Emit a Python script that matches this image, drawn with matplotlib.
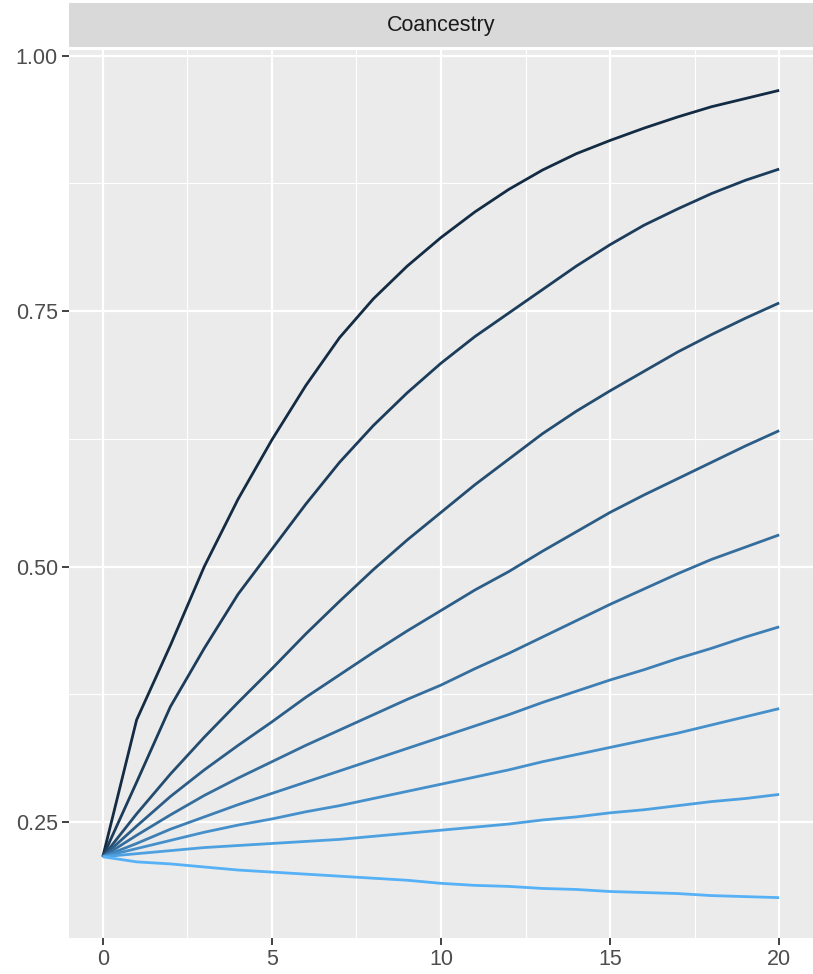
import numpy as np
import matplotlib
matplotlib.use("Agg")
import matplotlib.pyplot as plt
from matplotlib.colors import LinearSegmentedColormap

generation = list(range(21))

# one series per line, top (darkest) to bottom (lightest)
line1 = [.216, .350, .423, .500, .566, .624, .677, .724, .762, .794, .822,
         .847, .869, .888, .904, .917, .929, .940, .950, .958, .966]
line2 = [.216, .289, .363, .420, .473, .517, .561, .602, .638, .670, .699,
         .725, .748, .771, .794, .815, .834, .850, .865, .878, .889]
line3 = [.216, .258, .297, .333, .367, .400, .434, .466, .497, .526, .553,
         .580, .605, .630, .652, .672, .691, .710, .727, .743, .758]
line4 = [.216, .246, .275, .301, .325, .348, .372, .394, .416, .437, .457,
         .477, .495, .515, .534, .553, .570, .586, .602, .618, .633]
line5 = [.216, .237, .257, .276, .293, .309, .325, .340, .355, .370, .384,
         .400, .415, .431, .447, .463, .478, .493, .507, .519, .531]
line6 = [.216, .229, .243, .255, .267, .278, .289, .300, .311, .322, .333,
         .344, .355, .367, .378, .389, .399, .410, .420, .431, .441]
line7 = [.216, .224, .232, .240, .247, .253, .260, .266, .273, .280, .287,
         .294, .301, .309, .316, .323, .330, .337, .345, .353, .361]
line8 = [.216, .219, .222, .225, .227, .229, .231, .233, .236, .239, .242,
         .245, .248, .252, .255, .259, .262, .266, .270, .273, .277]
line9 = [.216, .211, .209, .206, .203, .201, .199, .197, .195, .193, .190,
         .188, .187, .185, .184, .182, .181, .180, .178, .177, .176]

series = [line1, line2, line3, line4, line5, line6, line7, line8, line9]

plt.rcParams['font.family'] = ['Liberation Sans', 'DejaVu Sans']

cmap = LinearSegmentedColormap.from_list("gg", ["#132B43", "#56B1F7"])

fig = plt.figure(figsize=(8.13, 9.74), dpi=100)
ax = fig.add_axes([69 / 813, 36 / 974, 744 / 813, 888 / 974])
ax.set_facecolor("#EBEBEB")

for i, s in enumerate(series):
    ax.plot(generation, s, color=cmap(i / (len(series) - 1)), lw=2.0,
            solid_capstyle="butt", zorder=3)

ax.set_xlim(-1, 21)
ax.set_ylim(0.1365, 1.0055)
ax.set_xticks([0, 5, 10, 15, 20])
ax.set_yticks([0.25, 0.50, 0.75, 1.00])
ax.set_yticklabels(["0.25", "0.50", "0.75", "1.00"])
ax.set_xticks([2.5, 7.5, 12.5, 17.5], minor=True)
ax.set_yticks([0.375, 0.625, 0.875], minor=True)
ax.grid(which="major", color="white", lw=1.6, zorder=1)
ax.grid(which="minor", color="white", lw=0.8, zorder=1)
ax.set_axisbelow(True)
for sp in ax.spines.values():
    sp.set_visible(False)
ax.tick_params(which="major", length=5, width=1.3, color="#333333",
               labelcolor="#4D4D4D", labelsize=15.5, pad=3)
ax.tick_params(which="minor", length=0)

# facet strip
strip = fig.add_axes([69 / 813, (974 - 47) / 974, 744 / 813, 44 / 974])
strip.set_facecolor("#D9D9D9")
strip.set_xticks([])
strip.set_yticks([])
for sp in strip.spines.values():
    sp.set_visible(False)
strip.text(0.5, 0.5, "Coancestry", ha="center", va="center",
           fontsize=15.5, color="#1A1A1A", transform=strip.transAxes)

fig.savefig("out.png", dpi=100)
